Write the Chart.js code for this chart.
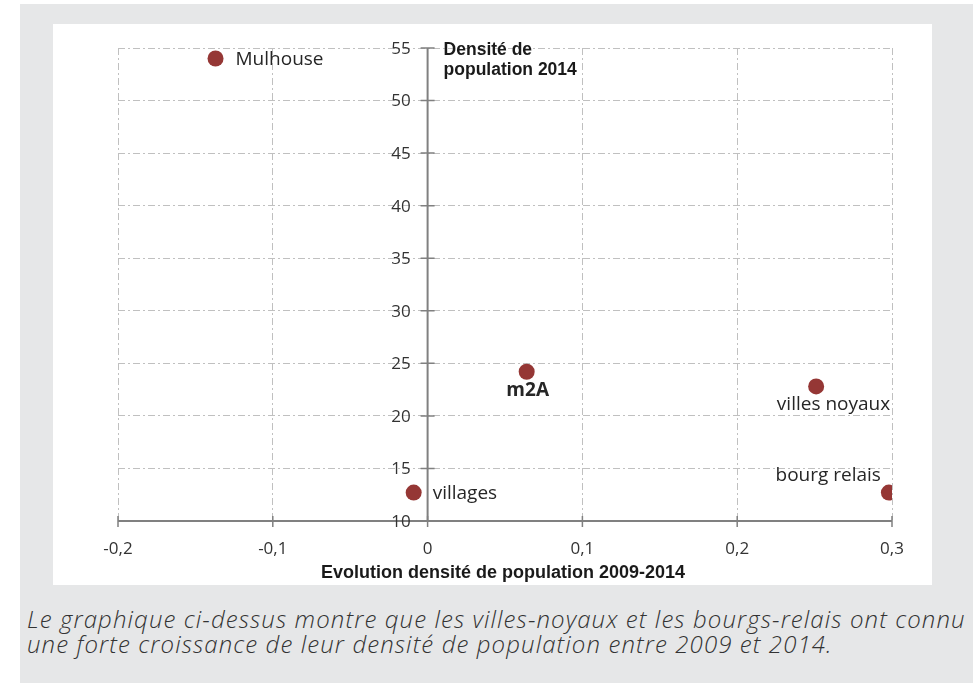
<!DOCTYPE html>
<html>
<head>
<meta charset="utf-8">
<script src="https://cdn.jsdelivr.net/npm/chart.js@4.4.1/dist/chart.umd.min.js"></script>
<style>
  html, body { margin: 0; padding: 0; background: #fff; }
  body { width: 973px; height: 683px; position: relative; overflow: hidden; }
  #bg { position: absolute; left: 20px; top: 4px; width: 953px; height: 679px; background: #e6e7e8; }
  #panel { position: absolute; left: 53px; top: 24px; width: 879px; height: 561px; background: #fff; }
  #caption {
    position: absolute; left: 27px; top: 606px; width: 946px;
    font-family: "Open Sans", sans-serif; font-style: italic; font-weight: 300;
    font-size: 24px; line-height: 25px; letter-spacing: 1.1px; color: #333; white-space: nowrap;
  }
</style>
</head>
<body>
<div id="bg"></div>
<div id="panel"><canvas id="chart_1" width="879" height="561"></canvas></div>
<div id="caption">Le graphique ci-dessus montre que les villes-noyaux et les bourgs-relais ont connu<br>une forte croissance de leur densité de population entre 2009 et 2014.</div>
<script>
// data
const names = ['Mulhouse', 'm2A', 'villages', 'villes noyaux', 'bourg relais'];
const evolution = [-0.137, 0.064, -0.009, 0.251, 0.298];
const densite = [54.0, 24.2, 12.7, 22.8, 12.7];
const xTicks = [-0.2, -0.1, 0, 0.1, 0.2, 0.3];
const yTicks = [10, 15, 20, 25, 30, 35, 40, 45, 50, 55];

// label placement (style only)
const labelStyle = [
  { align: 'left', dx: 20, dy: 1, bold: false },
  { align: 'center', dx: 1, dy: 19, bold: true },
  { align: 'left', dx: 19, dy: 1, bold: false },
  { align: 'right', dx: 74, dy: 18, bold: false },
  { align: 'right', dx: -8, dy: -17, bold: false }
];

const gridColor = '#c0c0c0';
const axisColor = '#808080';
const dashDot = [7, 3, 2, 3];
const tickFont = '17px "Open Sans", sans-serif';

const fmt = v => String(Math.round(v * 10) / 10).replace('.', ',');

const points = evolution.map((x, i) => ({ x: x, y: densite[i] }));

const overlay = {
  id: 'overlay',
  afterDatasetsDraw(chart) {
    const ctx = chart.ctx;
    const xs = chart.scales.x, ys = chart.scales.y;
    const x0 = xs.getPixelForValue(0);
    const yBase = ys.getPixelForValue(10);
    ctx.save();
    // axes
    ctx.strokeStyle = axisColor;
    ctx.lineWidth = 2;
    ctx.beginPath();
    ctx.moveTo(x0, ys.getPixelForValue(55));
    ctx.lineTo(x0, yBase);
    ctx.moveTo(xs.getPixelForValue(-0.2), yBase);
    ctx.lineTo(xs.getPixelForValue(0.3), yBase);
    ctx.stroke();
    ctx.lineWidth = 1.5;
    ctx.beginPath();
    xTicks.forEach(v => {
      const px = xs.getPixelForValue(v);
      ctx.moveTo(px, yBase - 5);
      ctx.lineTo(px, yBase + 6);
    });
    yTicks.forEach(v => {
      const py = ys.getPixelForValue(v);
      ctx.moveTo(x0 - 7, py);
      ctx.lineTo(x0 + 7, py);
    });
    ctx.stroke();

    // y tick labels, left of the y axis
    ctx.fillStyle = '#333';
    ctx.font = tickFont;
    ctx.textAlign = 'right';
    ctx.textBaseline = 'middle';
    yTicks.forEach(v => {
      ctx.fillText(fmt(v), x0 - 17, ys.getPixelForValue(v) + 1);
    });

    // axis titles
    ctx.fillStyle = '#1a1a1a';
    ctx.font = 'bold 17.5px "Liberation Sans", Arial, sans-serif';
    ctx.textAlign = 'left';
    ctx.textBaseline = 'alphabetic';
    const top = ys.getPixelForValue(55);
    ctx.fillText('Densité de', x0 + 16, top + 7);
    ctx.fillText('population 2014', x0 + 16, top + 27);
    ctx.textAlign = 'center';
    ctx.font = 'bold 18px "Liberation Sans", Arial, sans-serif';
    ctx.fillText('Evolution densité de population 2009-2014', (xs.left + xs.right) / 2 - 2, yBase + 57);

    // point labels
    ctx.fillStyle = '#262626';
    ctx.textBaseline = 'middle';
    const meta = chart.getDatasetMeta(0);
    meta.data.forEach((pt, i) => {
      const s = labelStyle[i];
      ctx.font = (s.bold ? 'bold ' : '') + '19px "Open Sans", sans-serif';
      ctx.textAlign = s.align;
      ctx.fillText(names[i], pt.x + s.dx, pt.y + s.dy);
    });
    ctx.restore();
  }
};

new Chart(document.getElementById('chart_1'), {
  type: 'scatter',
  data: {
    datasets: [{
      label: 'Densité',
      data: points,
      pointRadius: 8,
      pointHoverRadius: 8,
      backgroundColor: '#953735',
      borderColor: '#953735',
      borderWidth: 0
    }]
  },
  options: {
    responsive: false,
    animation: false,
    events: [],
    layout: { autoPadding: false, padding: { left: 65, top: 24, right: 40, bottom: 64 } },
    plugins: { legend: { display: false }, tooltip: { enabled: false } },
    scales: {
      x: {
        type: 'linear',
        position: { y: 10 },
        min: -0.2,
        max: 0.3,
        afterBuildTicks: axis => { axis.ticks = xTicks.map(v => ({ value: v })); },
        ticks: {
          callback: v => fmt(v),
          color: '#333',
          font: { family: '"Open Sans", sans-serif', size: 17 },
          padding: 18
        },
        grid: { color: gridColor, lineWidth: 1, drawTicks: false },
        border: { display: false, dash: dashDot }
      },
      y: {
        type: 'linear',
        position: { x: 0 },
        min: 10,
        max: 55,
        afterBuildTicks: axis => { axis.ticks = yTicks.map(v => ({ value: v })); },
        ticks: { display: false },
        grid: { color: gridColor, lineWidth: 1, drawTicks: false },
        border: { display: false, dash: dashDot }
      }
    }
  },
  plugins: [overlay]
});
</script>
</body>
</html>
